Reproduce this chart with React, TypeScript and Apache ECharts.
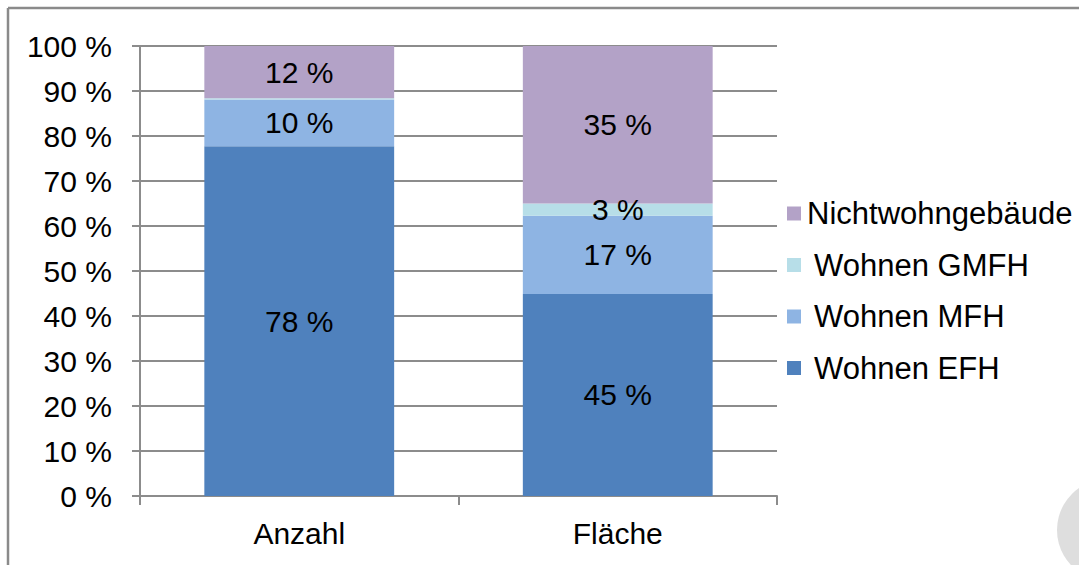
import React, { useEffect, useRef } from "react";
import * as echarts from "echarts";

const categories = ["Anzahl", "Fläche"];
const seriesNames = ["Wohnen EFH", "Wohnen MFH", "Wohnen GMFH", "Nichtwohngebäude"];
const efh = [77.7, 44.9];
const mfh = [10.4, 17.4];
const gmfh = [0.3, 2.7];
const nichtwohn = [11.6, 35.0];
const yTicks = [0, 10, 20, 30, 40, 50, 60, 70, 80, 90, 100];
const colors = ["#4F81BD", "#8EB4E3", "#B7DEE8", "#B3A2C7"];

const FONT = "Liberation Sans, Arial, sans-serif";

export default function App() {
  const ref = useRef<HTMLDivElement>(null);
  useEffect(() => {
    if (!ref.current) return;
    const chart = echarts.init(ref.current, undefined, { renderer: "svg" });
    const values = [efh, mfh, gmfh, nichtwohn];
    const series = seriesNames.map((name, i) => ({
      name,
      type: "bar",
      stack: "total",
      barWidth: "59.6%",
      itemStyle: { color: colors[i] },
      data: values[i].map((v) => ({
        value: v,
        label: { show: v >= 1 },
      })),
      label: {
        show: true,
        position: "inside",
        color: "#000",
        fontSize: 30,
        fontFamily: FONT,
        formatter: (p: any) => `${Math.round(p.value)} %`,
      },
    }));
    chart.setOption({
      animation: false,
      textStyle: { fontFamily: FONT },
      grid: { left: 140, top: 46, right: 302, bottom: 69, containLabel: false },
      legend: {
        orient: "vertical",
        left: 782,
        top: 193,
        itemWidth: 14,
        itemHeight: 14,
        itemGap: 20.5,
        icon: "rect",
        data: ["Nichtwohngebäude", "Wohnen GMFH", "Wohnen MFH", "Wohnen EFH"],
        formatter: (name: string) =>
          name === "Nichtwohngebäude" ? `{a|${name}}` : `{b|${name}}`,
        textStyle: {
          color: "#000",
          fontSize: 31,
          fontFamily: FONT,
          rich: {
            a: { fontSize: 31, fontFamily: FONT, color: "#000", padding: [0, 0, 0, 1] },
            b: { fontSize: 31, fontFamily: FONT, color: "#000", padding: [0, 0, 0, 8] },
          },
        },
      },
      xAxis: {
        type: "category",
        data: categories,
        axisLine: { show: true, lineStyle: { color: "#8c8c8c", width: 2 } },
        axisTick: { show: true, length: 9, alignWithLabel: false, lineStyle: { color: "#8c8c8c", width: 2 } },
        axisLabel: { color: "#000", fontSize: 30, fontFamily: FONT, margin: 22 },
      },
      yAxis: {
        type: "value",
        min: yTicks[0],
        max: yTicks[yTicks.length - 1],
        interval: 10,
        axisLine: { show: true, lineStyle: { color: "#8c8c8c", width: 2 } },
        axisTick: { show: true, length: 8, lineStyle: { color: "#8c8c8c", width: 2 } },
        splitLine: { show: true, lineStyle: { color: "#8c8c8c", width: 2 } },
        axisLabel: {
          color: "#000",
          fontSize: 30,
          fontFamily: FONT,
          margin: 28,
          formatter: (v: number) => `${v} %`,
        },
      },
      graphic: [
        {
          type: "line",
          shape: { x1: 8, y1: 8, x2: 1079, y2: 8 },
          style: { stroke: "#8a8a8a", lineWidth: 2.5 },
        },
        {
          type: "line",
          shape: { x1: 8, y1: 8, x2: 8, y2: 565 },
          style: { stroke: "#8a8a8a", lineWidth: 2.5 },
        },
        {
          type: "circle",
          shape: { cx: 1108, cy: 530, r: 51 },
          style: { fill: "#dedede" },
        },
      ],
      series,
    });
    return () => chart.dispose();
  }, []);
  return (
    <div
      ref={ref}
      style={{ position: "fixed", left: 0, top: 0, width: 1079, height: 565, background: "#fff" }}
    />
  );
}
